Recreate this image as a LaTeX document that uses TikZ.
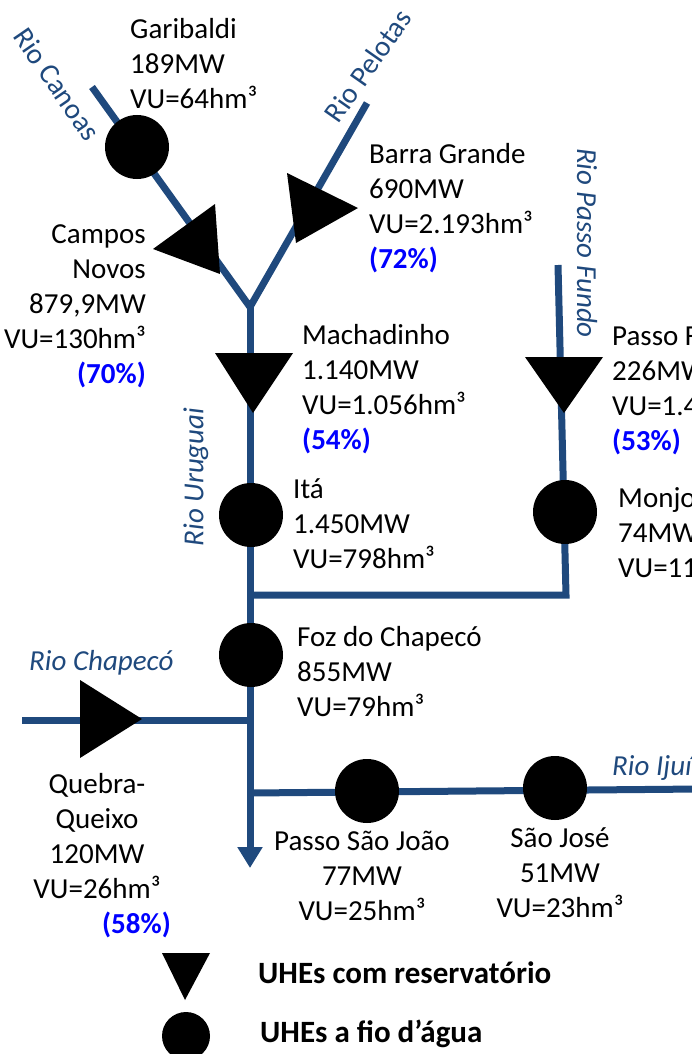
\documentclass[tikz,border=0pt]{standalone}
\usepackage{fontspec}
\setmainfont{Carlito}
\usetikzlibrary{arrows.meta}
\definecolor{rivblue}{HTML}{1F497D}
\definecolor{pctblue}{RGB}{0,0,255}
\begin{document}
\begin{tikzpicture}[x=1pt,y=-1pt,
  riverline/.style={draw=rivblue,line width=7pt,line join=miter},
  rorsym/.style={circle,fill=black,inner sep=0pt,minimum size=64pt},
  info/.style={font=\fontsize{29}{35}\selectfont,inner sep=0pt,text=black},
  pct/.style={font=\fontsize{29}{35}\selectfont\bfseries,text=pctblue,inner sep=0pt},
  rname/.style={font=\fontsize{29}{35}\selectfont,text=rivblue,inner sep=0pt},
  rnameit/.style={font=\fontsize{29}{35}\selectfont\itshape,text=rivblue,inner sep=0pt},
  legtext/.style={font=\fontsize{31}{37}\selectfont\bfseries,text=black,inner sep=0pt}
]
\useasboundingbox (0,0) rectangle (692,1054);
\clip (0,0) rectangle (692,1054);

% plant positions
\coordinate (garibaldi) at (137,147);
\coordinate (camposnovos) at (196,242);
\coordinate (barragrande) at (314,208);
\coordinate (junction) at (250,307);
\coordinate (machadinho) at (253,373);
\coordinate (ita) at (251,515);
\coordinate (passofundo) at (564,376);
\coordinate (monjolinho) at (565,512);
\coordinate (foz) at (251,655);
\coordinate (quebra) at (101,719);
\coordinate (psj) at (367,791);
\coordinate (saojose) at (555,788);
\coordinate (canoasstart) at (92,87);
\coordinate (pelotasstart) at (367,103);
\coordinate (pfstart) at (558,265);
\coordinate (pfcorner) at (566,595);
\coordinate (pfend) at (250,595);
\coordinate (chapstart) at (22,720);
\coordinate (chapend) at (250,720);
\coordinate (ijuistart) at (700,789);
\coordinate (ijuiend) at (250,793);
\coordinate (outlet) at (250,868);
\coordinate (maintop) at (250,300);

% rivers
\draw[riverline] (canoasstart) -- (junction) -- (pelotasstart);
\draw[riverline,-{Triangle[width=24pt,length=21pt]}] (maintop) -- (outlet);
\draw[riverline] (pfstart) -- (pfcorner) -- (pfend);
\draw[riverline] (chapstart) -- (chapend);
\draw[riverline] (ijuistart) -- (ijuiend);

% run-of-river plants
\node[rorsym] (garibaldi-sym) at (garibaldi) {};
\node[rorsym] (ita-sym) at (ita) {};
\node[rorsym] (monjolinho-sym) at (monjolinho) {};
\node[rorsym] (foz-sym) at (foz) {};
\node[rorsym] (psj-sym) at (psj) {};
\node[rorsym] (saojose-sym) at (saojose) {};

% reservoir plants
\fill[black] (153,249) -- (215,204) -- (220,274) -- cycle;
\fill[black] (287,173) -- (358,208) -- (296,243) -- cycle;
\fill[black] (215,353) -- (293,353) -- (253,413) -- cycle;
\fill[black] (525,357) -- (603,357) -- (564,413) -- cycle;
\fill[black] (80,680) -- (80,758) -- (142,719) -- cycle;

% plant labels (anchor = baseline of the last line)
\node[info,anchor=base west,align=left] (garibaldi-lbl) at (130,109) {Garibaldi\\189MW\\VU=64hm³};
\node[info,anchor=base east,align=right] (camposnovos-lbl) at (146,383) {Campos\\Novos\\879,9MW\\VU=130hm³\\{\bfseries\color{pctblue}(70\%)}};
\node[info,anchor=base west,align=left] (barragrande-lbl) at (369,268) {Barra Grande\\690MW\\VU=2.193hm³\\{\bfseries\color{pctblue}(72\%)}};
\node[info,anchor=base west,align=left] (machadinho-lbl) at (302,449) {Machadinho\\1.140MW\\VU=1.056hm³\\{\bfseries\color{pctblue}(54\%)}};
\node[info,anchor=base west,align=left] (ita-lbl) at (293,568) {Itá\\1.450MW\\VU=798hm³};
\node[info,anchor=base west,align=left] (passofundo-lbl) at (612,450) {Passo Fundo\\226MW\\VU=1.4\\{\bfseries\color{pctblue}(53\%)}};
\node[info,anchor=base west,align=left] (monjolinho-lbl) at (618,577) {Monjolinho\\74MW\\VU=11};
\node[info,anchor=base west,align=left] (foz-lbl) at (297,716) {Foz do Chapecó\\855MW\\VU=79hm³};
\node[info,anchor=base,align=center] (quebra-lbl) at (97,898) {Quebra-\\Queixo\\120MW\\VU=26hm³};
\node[pct,anchor=base west] (quebra-pct) at (102,933) {(58\%)};
\node[info,anchor=base,align=center] (psj-lbl) at (362,920) {Passo São João\\77MW\\VU=25hm³};
\node[info,anchor=base,align=center] (saojose-lbl) at (560,917) {São José\\51MW\\VU=23hm³};

% river names
\node[rname,rotate=-55.5] (canoas-lbl) at (57,84) {Rio Canoas};
\node[rname,rotate=55] (pelotas-lbl) at (368,66) {Rio Pelotas};
\node[rnameit,rotate=-90] (pf-lbl) at (587,243) {Rio Passo Fundo};
\node[rnameit,rotate=90] (uruguai-lbl) at (196,477) {Rio Uruguai};
\node[rnameit,anchor=base west] (chapeco-lbl) at (29,670) {Rio Chapecó};
\node[rnameit,anchor=base west] (ijui-lbl) at (612,775) {Rio Ijuí};

% legend
\fill[black] (162,953) -- (210,953) -- (185,1000) -- cycle;
\node[circle,fill=black,inner sep=0pt,minimum size=48pt] (leg-ror) at (186,1036) {};
\node[legtext,anchor=base west] (leg-res-lbl) at (258,983) {UHEs com reservatório};
\node[legtext,anchor=base west] (leg-ror-lbl) at (260,1042) {UHEs a fio d’água};
\end{tikzpicture}
\end{document}
